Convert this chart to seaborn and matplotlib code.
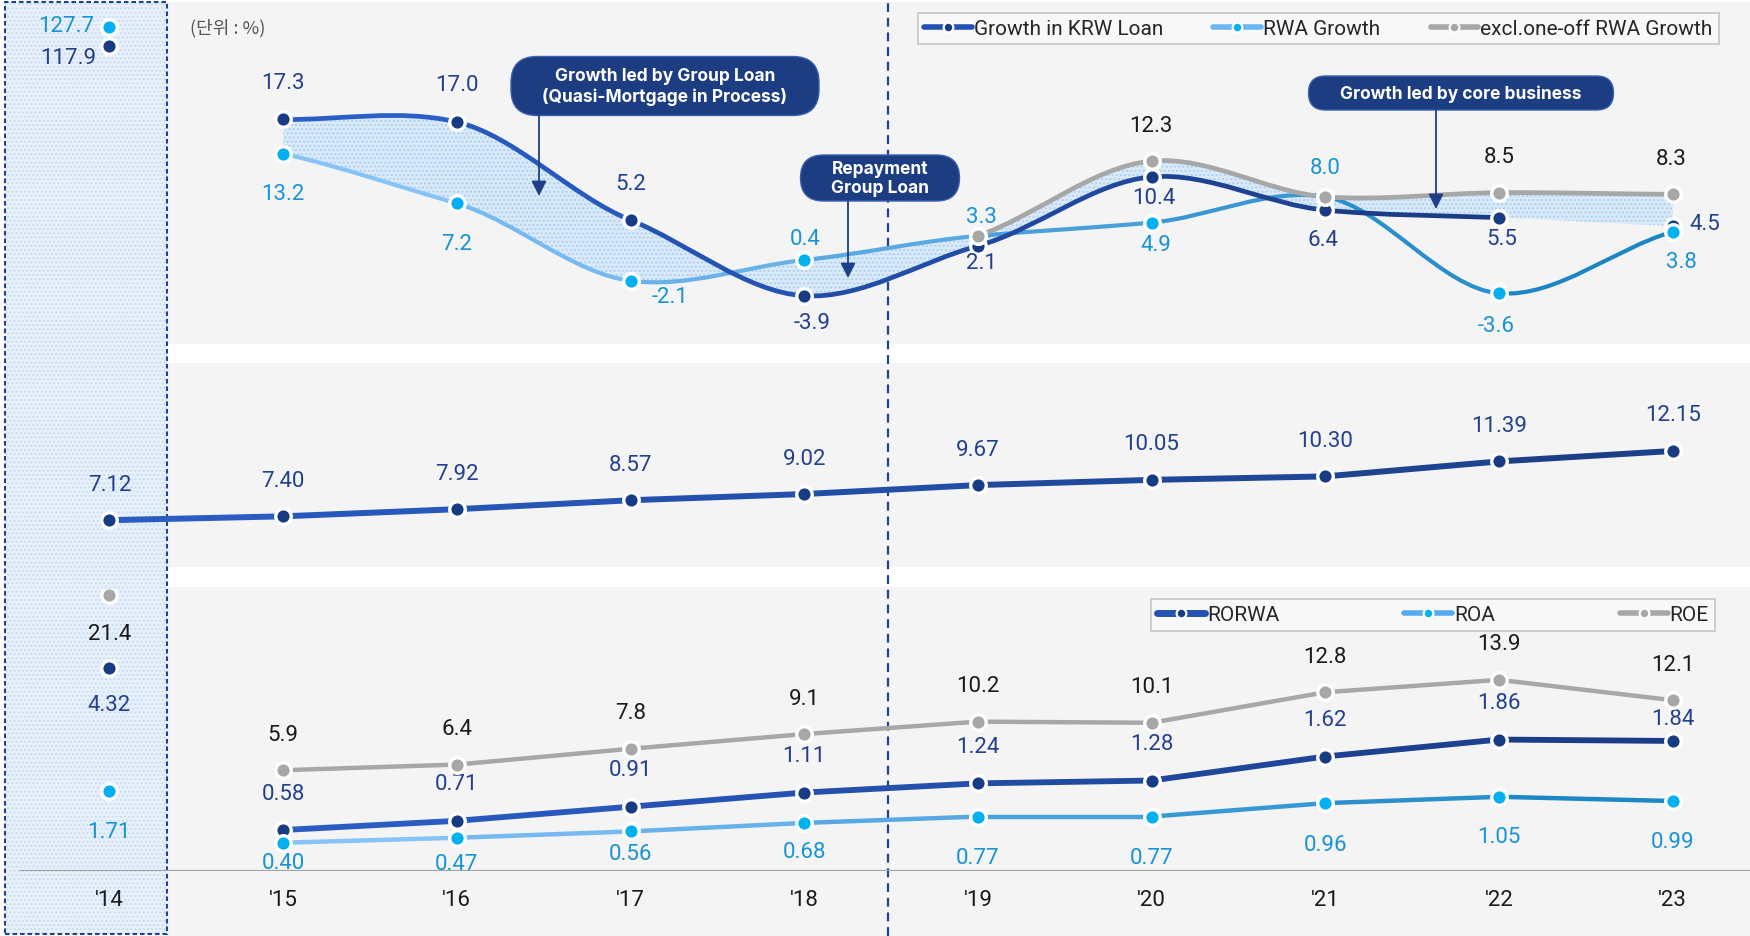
import numpy as np
import matplotlib
matplotlib.use("Agg")
import matplotlib.pyplot as plt
import seaborn as sns
from matplotlib.path import Path
from matplotlib.patches import PathPatch, Rectangle, FancyBboxPatch, FancyArrowPatch
from matplotlib.lines import Line2D
from matplotlib.transforms import IdentityTransform
from matplotlib.colors import to_rgb

# ---------------------------------------------------------------- data
years = ["'14", "'15", "'16", "'17", "'18", "'19", "'20", "'21", "'22", "'23"]
krw_loan_growth = [117.9, 17.3, 17.0, 5.2, -3.9, 2.1, 10.4, 6.4, 5.5, 4.5]
rwa_growth = [127.7, 13.2, 7.2, -2.1, 0.4, 3.3, 4.9, 8.0, -3.6, 3.8]
rwa_growth_excl = [np.nan, np.nan, np.nan, np.nan, np.nan, 3.3, 12.3, 8.0, 8.5, 8.3]
mid_ratio = [7.12, 7.40, 7.92, 8.57, 9.02, 9.67, 10.05, 10.30, 11.39, 12.15]
rorwa = [4.32, 0.58, 0.71, 0.91, 1.11, 1.24, 1.28, 1.62, 1.86, 1.84]
roa = [1.71, 0.40, 0.47, 0.56, 0.68, 0.77, 0.77, 0.96, 1.05, 0.99]
roe = [21.4, 5.9, 6.4, 7.8, 9.1, 10.2, 10.1, 12.8, 13.9, 12.1]

top_legend = ["Growth in KRW Loan", "RWA Growth", "excl.one-off RWA Growth"]
bottom_legend = ["RORWA", "ROA", "ROE"]
callouts = ["Growth led by Group Loan\n(Quasi-Mortgage in Process)",
            "Repayment\nGroup Loan",
            "Growth led by core business"]
unit_text = "(단위 : %)"

# ---------------------------------------------------------------- style
sns.set_theme(style="white")
plt.rcParams["font.family"] = ["Roboto", "Noto Sans CJK KR", "DejaVu Sans"]

NAVY = "#183c84"
NAVY_TXT = "#22408e"
CYAN = "#00b0f0"
CYAN_TXT = "#1893d3"
GRAY = "#a7a7a7"
DARK = "#1a1a1a"
BOX = "#1c3d82"
PANEL = "#f4f4f4"
LBL = 16

W, H = 1750, 937
fig = plt.figure(figsize=(W / 100, H / 100), dpi=100)
fig.patch.set_facecolor("white")


def fpos(x0, y0, x1, y1):
    return [x0 / W, 1 - y1 / H, (x1 - x0) / W, (y1 - y0) / H]


def mix(c0, c1, t):
    a, b = np.array(to_rgb(c0)), np.array(to_rgb(c1))
    return tuple(a + (b - a) * t)


# panel backgrounds
for y0, y1 in [(3, 345), (364, 568), (588, 937)]:
    fig.add_artist(Rectangle((167 / W, 1 - y1 / H), 1 - 167 / W, (y1 - y0) / H,
                             transform=fig.transFigure, facecolor=PANEL,
                             edgecolor="none", zorder=-6))
# highlighted first-year column
fig.add_artist(Rectangle((5 / W, 1 - 935 / H), 162 / W, 932 / H, transform=fig.transFigure,
                         facecolor="#e8f1fb", edgecolor="#c6dcf3", hatch="....",
                         linewidth=0, zorder=-5))
fig.add_artist(Rectangle((5 / W, 1 - 935 / H), 162 / W, 932 / H, transform=fig.transFigure,
                         fill=False, edgecolor="#1f4390", linewidth=1.5,
                         linestyle=(0, (2.2, 1.4)), zorder=-4))
# divider between periods
fig.add_artist(Line2D([888 / W, 888 / W], [0, 1], transform=fig.transFigure,
                      color="#1f4390", linewidth=1.6, linestyle=(0, (4, 2.6)), zorder=-3))

XL = (-109.4 / 173.7, (W - 109.4) / 173.7)
x = np.arange(len(years))

ax_top = fig.add_axes(fpos(0, 3, W, 345))
ax_top14 = fig.add_axes(fpos(0, 3, W, 345))
ax_mid = fig.add_axes(fpos(0, 364, W, 568))
ax_bot = fig.add_axes(fpos(0, 590, W, 872))
ax_roe = ax_bot.twinx()
ax_bot14 = fig.add_axes(fpos(0, 590, W, 872))

ax_top.set_ylim(-9.70, 31.43)
ax_top14.set_ylim(-35.8, 140.5)
ax_mid.set_ylim(3.72, 18.54)
ax_bot.set_ylim(0, 3.99)
ax_roe.set_ylim(-3.02, 21.94)
ax_bot14.set_ylim(0.033, 5.974)

for a in (ax_top, ax_top14, ax_mid, ax_bot, ax_roe, ax_bot14):
    a.set_xlim(XL)
for a in (ax_top, ax_top14, ax_mid, ax_roe, ax_bot14):
    a.set_axis_off()
ax_bot.set_facecolor("none")
for sp in ax_bot.spines.values():
    sp.set_visible(False)
ax_bot.set_yticks([])
ax_bot.set_xticks(x, years)
ax_bot.tick_params(axis="x", length=0, pad=13, labelsize=16, labelcolor=DARK)
ax_bot.axhline(0, xmin=20 / W, xmax=1, color="#a3a3a3", linewidth=1.6, zorder=1)


# ---------------------------------------------------------------- helpers
def spline_segments(xs, ys, s=0.8):
    xs = np.asarray(xs, float)
    ys = np.asarray(ys, float)
    n = len(xs)
    m = np.empty(n)
    for i in range(n):
        if i == 0:
            m[i] = s * (ys[1] - ys[0]) / (xs[1] - xs[0])
        elif i == n - 1:
            m[i] = s * (ys[-1] - ys[-2]) / (xs[-1] - xs[-2])
        else:
            m[i] = s * (ys[i + 1] - ys[i - 1]) / (xs[i + 1] - xs[i - 1])
    segs = []
    for i in range(n - 1):
        h = xs[i + 1] - xs[i]
        segs.append(((xs[i], ys[i]),
                     (xs[i] + h / 3, ys[i] + m[i] * h / 3),
                     (xs[i + 1] - h / 3, ys[i + 1] - m[i + 1] * h / 3),
                     (xs[i + 1], ys[i + 1])))
    return segs


def curve_path(segs):
    verts, codes = [segs[0][0]], [Path.MOVETO]
    for s_ in segs:
        verts += [s_[1], s_[2], s_[3]]
        codes += [Path.CURVE4] * 3
    return Path(verts, codes)


def band_path(upper, lower):
    verts, codes = [upper[0][0]], [Path.MOVETO]
    for s_ in upper:
        verts += [s_[1], s_[2], s_[3]]
        codes += [Path.CURVE4] * 3
    verts.append(lower[-1][3])
    codes.append(Path.LINETO)
    for s_ in reversed(lower):
        verts += [s_[2], s_[1], s_[0]]
        codes += [Path.CURVE4] * 3
    verts.append(upper[0][0])
    codes.append(Path.CLOSEPOLY)
    return Path(verts, codes)


def draw_curve(ax, segs, c0, c1, lw):
    n = len(segs)
    for j, seg in enumerate(segs):
        t = j / max(n - 1, 1)
        ax.add_patch(PathPatch(curve_path([seg]), fill=False, edgecolor=mix(c0, c1, t),
                               linewidth=lw, capstyle="round", zorder=3))


def draw_band(ax, upper, lower):
    ax.add_patch(PathPatch(band_path(upper, lower), facecolor="#dbeaf9",
                           edgecolor="#acd0f2", hatch="....", linewidth=0, zorder=1))


def draw_straight(ax, xs, ys, c0, c1, lw):
    n = len(xs) - 1
    for i in range(n):
        sns.lineplot(x=xs[i:i + 2], y=ys[i:i + 2], ax=ax, color=mix(c0, c1, i / max(n - 1, 1)),
                     linewidth=lw, solid_capstyle="round", zorder=3, legend=False)


def dots(ax, xs, ys, color, z):
    sns.scatterplot(x=xs, y=ys, ax=ax, s=125, color=color, edgecolor="white",
                    linewidth=2.4, zorder=z, legend=False)


def labels(ax, xs, ys, fmt, color, offsets):
    for xi, yi, off in zip(xs, ys, offsets):
        if off is None or np.isnan(yi):
            continue
        dx, dy = off[0], off[1]
        ha = off[2] if len(off) > 2 else "center"
        ax.annotate(format(yi, fmt), (xi, yi), xytext=(dx, dy), textcoords="offset pixels",
                    ha=ha, va="center", color=color, fontsize=LBL, zorder=10)


# ---------------------------------------------------------------- top panel
xs_t = x[1:]
krw = np.array(krw_loan_growth[1:])
rwa = np.array(rwa_growth[1:])
exc_x = x[5:]
exc = np.array(rwa_growth_excl[5:])

krw_segs = spline_segments(xs_t, krw)
rwa_segs = spline_segments(xs_t, rwa)
exc_segs = spline_segments(exc_x, exc)

draw_band(ax_top, krw_segs[0:4], rwa_segs[0:4])
draw_band(ax_top, exc_segs, krw_segs[4:8])

draw_curve(ax_top, rwa_segs, "#86c3f8", "#1c86c4", 3.0)
draw_curve(ax_top, krw_segs[:7], "#2a5ec8", "#1b3d87", 3.4)
draw_curve(ax_top, exc_segs, GRAY, GRAY, 3.4)

dots(ax_top, xs_t, krw, NAVY, 5)
dots(ax_top, xs_t, rwa, CYAN, 6)
dots(ax_top, exc_x, exc, GRAY, 7)
dots(ax_top14, [0], [krw_loan_growth[0]], NAVY, 5)
dots(ax_top14, [0], [rwa_growth[0]], CYAN, 6)

labels(ax_top, xs_t, krw, ".1f", NAVY_TXT,
       [(0, 37), (0, 37), (0, 37), (8, -27), (4, -17), (2, -21), (-2, -29), (3, -21), (32, 2)])
labels(ax_top, xs_t, rwa, ".1f", CYAN_TXT,
       [(0, -40), (0, -40), (40, -16), (1, 22), (4, 19), (4, -22), (0, 29), (-3, -32), (9, -30)])
labels(ax_top, exc_x, exc, ".1f", DARK, [None, (-1, 36), None, (0, 36), (-2, 36)])
labels(ax_top14, [0], [rwa_growth[0]], ".1f", CYAN_TXT, [(-15, 1, "right")])
labels(ax_top14, [0], [krw_loan_growth[0]], ".1f", NAVY_TXT, [(-13, -12, "right")])

# ---------------------------------------------------------------- middle panel
draw_straight(ax_mid, x, np.array(mid_ratio), "#2a5cc4", "#1c3f88", 4.3)
dots(ax_mid, x, mid_ratio, NAVY, 5)
labels(ax_mid, x, mid_ratio, ".2f", NAVY_TXT, [(0, 36)] * len(x))

# ---------------------------------------------------------------- bottom panel
xb = x[1:]
draw_straight(ax_roe, xb, np.array(roe[1:]), GRAY, GRAY, 3.2)
draw_straight(ax_bot, xb, np.array(rorwa[1:]), "#2a5cc4", "#1b3d87", 4.2)
draw_straight(ax_bot, xb, np.array(roa[1:]), "#86c3f8", "#1a87c6", 3.2)

dots(ax_bot, xb, rorwa[1:], NAVY, 5)
dots(ax_bot, xb, roa[1:], CYAN, 6)
dots(ax_roe, x, roe, GRAY, 7)
dots(ax_bot14, [0], [rorwa[0]], NAVY, 5)
dots(ax_bot14, [0], [roa[0]], CYAN, 6)

labels(ax_roe, x, roe, ".1f", DARK, [(0, -38)] + [(0, 36)] * 9)
labels(ax_bot, xb, rorwa[1:], ".2f", NAVY_TXT, [(0, 37)] * 8 + [(0, 22)])
labels(ax_bot, xb, roa[1:], ".2f", CYAN_TXT,
       [(0, -20), (0, -26), (0, -22), (0, -29), (0, -41), (0, -41), (0, -41), (0, -40), (0, -40)])
labels(ax_bot14, [0], [rorwa[0]], ".2f", NAVY_TXT, [(0, -37)])
labels(ax_bot14, [0], [roa[0]], ".2f", CYAN_TXT, [(0, -40)])

# ---------------------------------------------------------------- legends
def handle(line_c, dot_c, lw):
    return Line2D([0], [0], color=line_c, linewidth=lw, marker="o", markersize=7,
                  markerfacecolor=dot_c, markeredgecolor="white", markeredgewidth=1.6)


def styled_legend(handles, names, x0, y0, x1, y1):
    leg = fig.legend(handles, names, loc="center", ncol=3, mode="expand",
                     bbox_to_anchor=(x0 / W, 1 - y1 / H, (x1 - x0) / W, (y1 - y0) / H),
                     bbox_transform=fig.transFigure, frameon=True, fancybox=False,
                     fontsize=15, handlelength=2.3, handletextpad=0.1,
                     borderaxespad=0, borderpad=0.3, labelcolor="#262626")
    fr = leg.get_frame()
    fr.set_facecolor("#f8f8f8")
    fr.set_edgecolor("#c9c9c9")
    fr.set_linewidth(1.3)
    fr.set_alpha(1)
    return leg


styled_legend([handle("#2352b4", NAVY, 4), handle("#6cb5f3", CYAN, 4), handle(GRAY, GRAY, 4)],
              top_legend, 918, 12, 1719, 47)
styled_legend([handle("#2352b4", NAVY, 5), handle("#5aaaf0", CYAN, 4), handle(GRAY, GRAY, 4)],
              bottom_legend, 1151, 599, 1715, 633)

# ---------------------------------------------------------------- callouts
def callout(text, cx, cy, w, h, ax_x, ay0, ay1):
    r = min(h / 2, 26)
    fig.add_artist(FancyBboxPatch((cx - w / 2, H - cy - h / 2), w, h,
                                  boxstyle=f"round,pad=0,rounding_size={r}",
                                  transform=IdentityTransform(), facecolor=BOX,
                                  edgecolor="#3a5fb0", linewidth=1.0, zorder=8))
    fig.text(cx / W, 1 - cy / H, text, ha="center", va="center", color="white",
             fontsize=12.5, fontweight="bold", family=["Inter", "DejaVu Sans"],
             linespacing=1.2, zorder=9)
    fig.add_artist(FancyArrowPatch((ax_x, H - ay0), (ax_x, H - ay1),
                                   transform=IdentityTransform(),
                                   arrowstyle="-|>,head_length=9,head_width=4.5",
                                   color="#1f3f86", linewidth=1.3,
                                   shrinkA=0, shrinkB=0, zorder=8))


callout(callouts[0], 665, 87, 308, 59, 539, 117, 197)
callout(callouts[1], 880, 179, 159, 46, 848, 202, 279)
callout(callouts[2], 1461, 94, 305, 34, 1436, 111, 210)

fig.text(190 / W, 1 - 28 / H, unit_text, ha="left", va="center", fontsize=13,
         color="#555555", family=["Noto Sans CJK KR", "DejaVu Sans"])

fig.savefig("out.png", dpi=100)
